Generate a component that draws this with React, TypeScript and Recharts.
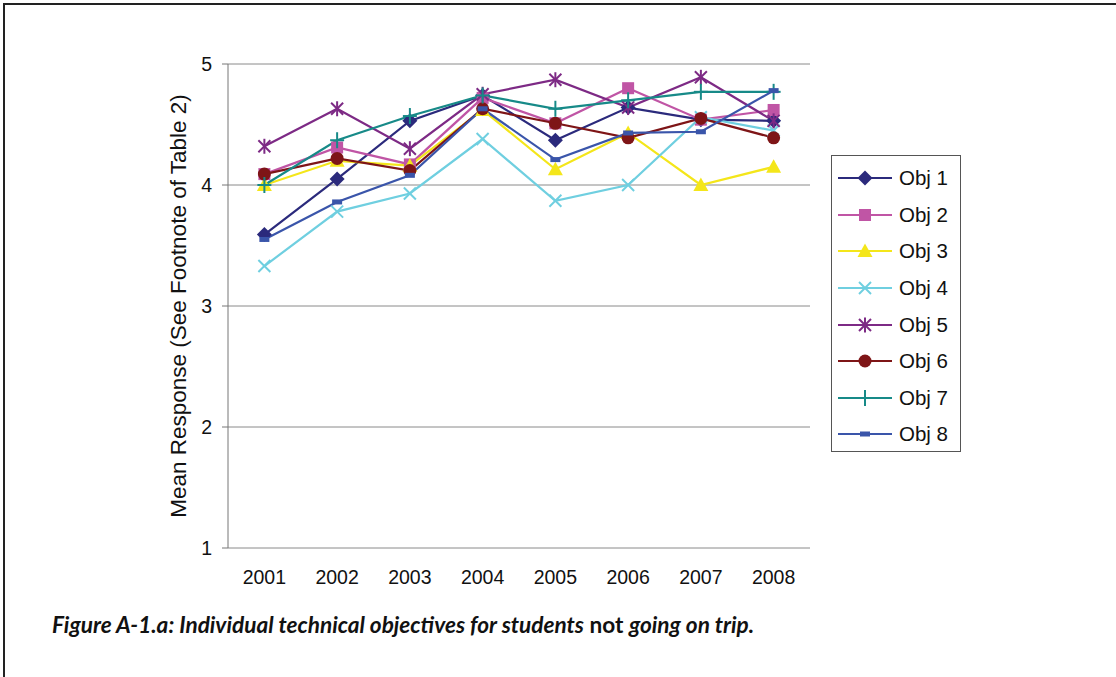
import React from 'react';
import { LineChart, Line, XAxis, YAxis, CartesianGrid } from 'recharts';

const years = [2001, 2002, 2003, 2004, 2005, 2006, 2007, 2008];
const yearEdges = [2000.5, 2001.5, 2002.5, 2003.5, 2004.5, 2005.5, 2006.5, 2007.5, 2008.5];
const yTicks = [1, 2, 3, 4, 5];

const obj1 = [3.59, 4.05, 4.53, 4.74, 4.37, 4.64, 4.54, 4.53];
const obj2 = [4.09, 4.31, 4.17, 4.72, 4.51, 4.80, 4.54, 4.62];
const obj3 = [4.00, 4.20, 4.16, 4.62, 4.13, 4.43, 4.00, 4.15];
const obj4 = [3.33, 3.78, 3.93, 4.38, 3.87, 4.00, 4.56, 4.45];
const obj5 = [4.32, 4.63, 4.30, 4.75, 4.87, 4.64, 4.89, 4.53];
const obj6 = [4.09, 4.22, 4.12, 4.63, 4.51, 4.39, 4.55, 4.39];
const obj7 = [4.00, 4.37, 4.57, 4.74, 4.63, 4.70, 4.77, 4.77];
const obj8 = [3.55, 3.86, 4.08, 4.63, 4.21, 4.43, 4.44, 4.78];

type Shape = 'diamond' | 'square' | 'triangle' | 'x' | 'star' | 'circle' | 'plus' | 'dash';

const series: { key: string; name: string; values: number[]; color: string; shape: Shape }[] = [
  { key: 'obj1', name: 'Obj 1', values: obj1, color: '#2b2a7c', shape: 'diamond' },
  { key: 'obj2', name: 'Obj 2', values: obj2, color: '#c055a5', shape: 'square' },
  { key: 'obj3', name: 'Obj 3', values: obj3, color: '#f4e61a', shape: 'triangle' },
  { key: 'obj4', name: 'Obj 4', values: obj4, color: '#6fcfe0', shape: 'x' },
  { key: 'obj5', name: 'Obj 5', values: obj5, color: '#7d2a85', shape: 'star' },
  { key: 'obj6', name: 'Obj 6', values: obj6, color: '#7e1517', shape: 'circle' },
  { key: 'obj7', name: 'Obj 7', values: obj7, color: '#178a88', shape: 'plus' },
  { key: 'obj8', name: 'Obj 8', values: obj8, color: '#3a55aa', shape: 'dash' },
];

const data = years.map((year, i) => {
  const row: Record<string, number> = { year };
  series.forEach(s => { row[s.key] = s.values[i]; });
  return row;
});

const MarkerShape = ({ cx, cy, shape, color }: { cx: number; cy: number; shape: Shape; color: string }) => {
  if (cx == null || cy == null) return null;
  switch (shape) {
    case 'diamond':
      return <polygon points={`${cx},${cy - 7.5} ${cx + 7.5},${cy} ${cx},${cy + 7.5} ${cx - 7.5},${cy}`} fill={color} />;
    case 'square':
      return <rect x={cx - 6} y={cy - 6} width={12} height={12} fill={color} />;
    case 'triangle':
      return <polygon points={`${cx},${cy - 7.5} ${cx + 7.5},${cy + 6} ${cx - 7.5},${cy + 6}`} fill={color} />;
    case 'x':
      return (
        <g stroke={color} strokeWidth={2}>
          <line x1={cx - 6} y1={cy - 6} x2={cx + 6} y2={cy + 6} />
          <line x1={cx - 6} y1={cy + 6} x2={cx + 6} y2={cy - 6} />
        </g>
      );
    case 'star':
      return (
        <g stroke={color} strokeWidth={2}>
          <line x1={cx - 6} y1={cy - 6} x2={cx + 6} y2={cy + 6} />
          <line x1={cx - 6} y1={cy + 6} x2={cx + 6} y2={cy - 6} />
          <line x1={cx} y1={cy - 7.5} x2={cx} y2={cy + 7.5} />
        </g>
      );
    case 'circle':
      return <circle cx={cx} cy={cy} r={6.5} fill={color} />;
    case 'plus':
      return (
        <g stroke={color} strokeWidth={2}>
          <line x1={cx - 7} y1={cy} x2={cx + 7} y2={cy} />
          <line x1={cx} y1={cy - 8} x2={cx} y2={cy + 8} />
        </g>
      );
    case 'dash':
      return <rect x={cx - 5} y={cy - 2.5} width={10} height={5} fill={color} />;
    default:
      return null;
  }
};

const font = '"Liberation Sans", Arial, sans-serif';

const ChartLegend = () => (
  <div
    style={{
      position: 'absolute',
      left: 831,
      top: 155,
      width: 130,
      height: 297,
      border: '1px solid #555',
      background: '#fff',
      boxSizing: 'border-box',
      paddingTop: 4,
    }}
  >
    {series.map(s => (
      <div key={s.key} style={{ display: 'flex', alignItems: 'center', height: 36.6 }}>
        <svg width={61} height={20} style={{ marginLeft: 6 }}>
          <line x1={0} y1={10} x2={54} y2={10} stroke={s.color} strokeWidth={2} />
          <MarkerShape cx={27} cy={10} shape={s.shape} color={s.color} />
        </svg>
        <span style={{ fontFamily: font, fontSize: 20.5, color: '#111' }}>{s.name}</span>
      </div>
    ))}
  </div>
);

export default function App() {
  return (
    <div style={{ position: 'absolute', left: 0, top: 0, width: 1116, height: 677, background: '#fff', overflow: 'hidden' }}>
      <div style={{ position: 'absolute', left: 3, top: 3, width: 1113, height: 2, background: '#222' }} />
      <div style={{ position: 'absolute', left: 3, top: 3, width: 2, height: 674, background: '#222' }} />
      <LineChart
        width={1116}
        height={677}
        data={data}
        margin={{ top: 64, right: 306, bottom: 89, left: 160 }}
        style={{ position: 'absolute', left: 0, top: 0 }}
      >
        <CartesianGrid vertical={false} stroke="#8a8a8a" strokeWidth={1} />
        <XAxis
          xAxisId="edges"
          dataKey="year"
          type="number"
          domain={[2000.5, 2008.5]}
          ticks={yearEdges}
          tick={false}
          tickSize={5}
          height={0}
          stroke="#777"
          allowDataOverflow
        />
        <XAxis
          dataKey="year"
          type="number"
          domain={[2000.5, 2008.5]}
          ticks={years}
          axisLine={false}
          tickLine={false}
          tickMargin={16}
          height={40}
          tick={{ fill: '#111', fontSize: 19.5, fontFamily: font }}
          allowDataOverflow
        />
        <YAxis
          domain={[1, 5]}
          ticks={yTicks}
          width={68}
          tickSize={6}
          tickMargin={10}
          stroke="#777"
          tick={{ fill: '#111', fontSize: 19.5, fontFamily: font }}
          label={{
            value: 'Mean Response (See Footnote of Table 2)',
            angle: -90,
            position: 'insideLeft',
            offset: 18,
            style: { textAnchor: 'middle', fill: '#111', fontSize: 22.5, fontFamily: font },
          }}
        />
        {series.map(s => (
          <Line
            key={s.key}
            dataKey={s.key}
            name={s.name}
            stroke={s.color}
            strokeWidth={2.2}
            isAnimationActive={false}
            dot={(props: any) => (
              <MarkerShape key={`${s.key}-${props.index}`} cx={props.cx} cy={props.cy} shape={s.shape} color={s.color} />
            )}
            activeDot={false}
          />
        ))}
      </LineChart>
      <ChartLegend />
      <div
        style={{
          position: 'absolute',
          left: 52,
          top: 611,
          fontFamily: 'Lato, "Open Sans", sans-serif',
          fontWeight: 700,
          fontSize: 22.6,
          color: '#111',
          whiteSpace: 'nowrap',
        }}
      >
        <i>Figure A-1.a: Individual technical objectives for students</i> not <i>going on trip.</i>
      </div>
    </div>
  );
}
